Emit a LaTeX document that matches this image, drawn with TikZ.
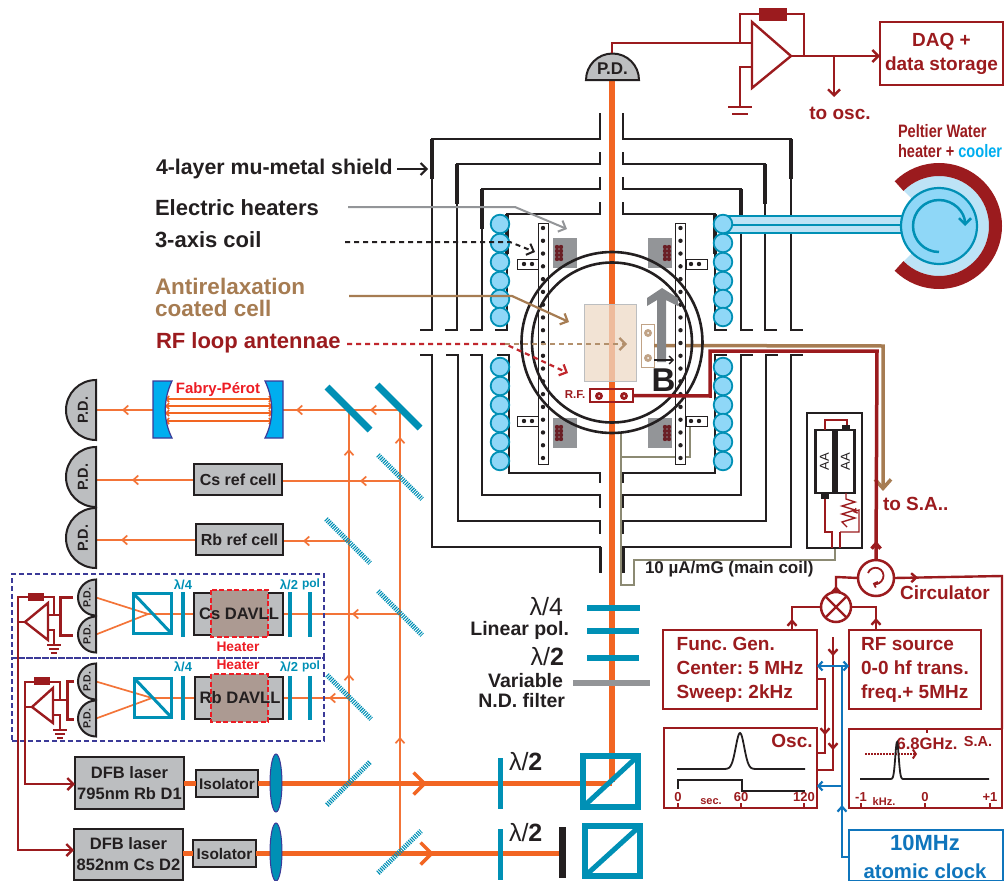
\documentclass[tikz,border=0pt]{standalone}
\usepackage{fontspec}
\setmainfont{Liberation Sans}
\usetikzlibrary{arrows.meta,decorations.markings,calc}
\definecolor{teal}{HTML}{0090B5}
\definecolor{orangebeam}{HTML}{F26522}
\definecolor{darkred}{HTML}{9B1B1E}
\definecolor{rfred}{HTML}{C1272D}
\definecolor{hotred}{HTML}{ED1C24}
\definecolor{ink}{HTML}{231F20}
\definecolor{tan}{HTML}{A67C52}
\definecolor{clockblue}{HTML}{0F75BC}
\definecolor{skyblue}{HTML}{00AEEF}
\definecolor{waterblue}{HTML}{8FD7F7}
\definecolor{palewater}{HTML}{BDE3F6}
\definecolor{navy}{HTML}{3B3A98}
\definecolor{boxgray}{HTML}{BCBEC0}
\definecolor{midgray}{HTML}{939598}
\definecolor{coatfill}{HTML}{EDD9C6}
\definecolor{heatfill}{HTML}{AC9A92}
\definecolor{thinwire}{HTML}{8C8A73}
\definecolor{coilred}{HTML}{6A1F25}
\newcommand{\fsz}[1]{\fontsize{#1}{#1}\selectfont}

\begin{document}
\frenchspacing
\begin{tikzpicture}[x=1pt,y=-1pt,
    lbl/.style={inner sep=0pt,outer sep=0pt,font=\bfseries,text=ink},
    graybox/.style={draw=ink,line width=2pt,fill=boxgray,inner sep=0pt,outer sep=0pt,text=ink,font=\bfseries\fsz{16}},
    redbox/.style={draw=darkred,line width=2.4pt,inner sep=0pt,outer sep=0pt,text=darkred,font=\bfseries},
    beam/.style={draw=orangebeam!90!white,line width=1.7pt},
    mainbeam/.style={draw=orangebeam,line width=6pt},
    laserbeam/.style={draw=orangebeam,line width=5pt},
    midarr/.style={postaction={decorate,decoration={markings,mark=at position #1 with {\arrow{Straight Barb[length=5pt,width=9pt]}}}}},
    bigarr/.style={postaction={decorate,decoration={markings,mark=at position #1 with {\arrow{Straight Barb[length=11pt,width=22pt,line width=3.5pt]}}}}},
    tipped/.style={-{Straight Barb[length=6pt,width=12pt]}},
    mirror/.style={draw=teal,line width=7pt},
    hatched/.style={draw=teal,line width=5pt,dash pattern=on 1.1pt off 1.1pt},
    wave/.style={draw=teal,line width=4pt},
    tealbox/.style={draw=teal,inner sep=0pt,outer sep=0pt},
    wire/.style={draw=darkred,line width=2.4pt},
    shieldline/.style={draw=ink,line width=1.8pt},
    pdbody/.style={draw=ink,line width=2pt,fill=boxgray},
    ball/.style={draw=teal,line width=1.8pt,fill=waterblue},
    rail/.style={draw=ink,line width=1pt,fill=white},
    dashbox/.style={draw=navy,line width=1.4pt,dash pattern=on 5pt off 3pt},
    heatbox/.style={draw=hotred,line width=2.5pt,dash pattern=on 5pt off 2.5pt,fill=heatfill},
    clk/.style={draw=clockblue,line width=2.2pt}
]
\useasboundingbox (0,0) rectangle (1005,881);

% Shield, upper half
\foreach \xl/\xr/\yb/\st in {507/715/214/202, 482/741/189/177, 457/765/164/152, 432/791/139/113} {
    \draw[shieldline] ({\xl-12},330) -- (\xl,330) -- (\xl,\yb) -- (600,\yb) -- (600,\st);
    \draw[shieldline] (623,\st) -- (623,\yb) -- (\xr,\yb) -- (\xr,330) -- ({\xr+12},330);
    \draw[draw=ink,line width=3.2pt] (\xl,\yb) -- (\xl,{\yb+40});
    \draw[draw=ink,line width=3.2pt] (\xr,\yb) -- (\xr,{\yb+40});
}
% Shield, lower half
\foreach \xl/\xr/\yb/\st in {509/715/473/483, 482/741/495/508, 458/766/521/534, 432/791/547/573} {
    \draw[shieldline] ({\xl-12},355) -- (\xl,355) -- (\xl,\yb) -- (600,\yb) -- (600,\st);
    \draw[shieldline] (623,\st) -- (623,\yb) -- (\xr,\yb) -- (\xr,355) -- ({\xr+12},355);
}
\draw[draw=ink,line width=3pt] (600,547) -- (600,573);
\draw[draw=ink,line width=3pt] (623,547) -- (623,573);

% Thin coil wire
\draw[draw=thinwire,line width=1.2pt] (621,433) -- (621,585) -- (634,585) -- (634,560) -- (835,560) -- (835,548);
\draw[draw=thinwire,line width=1.2pt] (621,457) -- (690,457) -- (690,427);

% Beams on the table
\coordinate (mirA) at (349,410);
\coordinate (mirB) at (400,410);
\coordinate (splitA) at (400,481);
\coordinate (splitB) at (349,541);
\coordinate (splitC) at (400,614);
\coordinate (splitD) at (349,698);
\coordinate (splitE) at (349,782);
\coordinate (splitF) at (400,852);
\coordinate (davCs) at (148,614);
\coordinate (davRb) at (152,698);
\coordinate (pd1) at (96,410);
\coordinate (pd2) at (96,480);
\coordinate (pd3) at (96,540);
\coordinate (pd4) at (96,597.5);
\coordinate (pd5) at (96,634.5);
\coordinate (pd6) at (96,681.5);
\coordinate (pd7) at (96,718.5);
\draw[beam,midarr=30pt] (mirB) -- (mirA);
\draw[beam,midarr=53pt] (mirA) -- (283,410);
\draw[beam,midarr=31pt] (153,410) -- (pd1);
\draw[beam,midarr=108pt,midarr=333pt] (splitE) -- (mirA);
\draw[beam,midarr=115pt,midarr=415pt] (splitF) -- (mirB);
\draw[beam,midarr=40pt] (splitA) -- (282,481);
\draw[beam,midarr=62pt] (194,480) -- (pd2);
\draw[beam,midarr=46pt] (splitB) -- (283,541);
\draw[beam,midarr=75pt] (196,540) -- (pd3);
\draw[beam,midarr=48pt] (splitC) -- (davCs);
\draw[beam,midarr=20pt] (splitD) -- (davRb);
\draw[beam] (davCs) -- (pd4);
\draw[beam] (davCs) -- (pd5);
\draw[beam] (davRb) -- (pd6);
\draw[beam] (davRb) -- (pd7);

% Photodiodes
\foreach \n/\y/\r/\s/\tx in {1/410/30/14.5/83, 2/477/30/14.5/83, 3/538/30/14.5/83, 4/597.5/18/10.5/87, 5/634.5/18/10.5/87, 6/681.5/18/10.5/87, 7/718.5/18/10.5/87} {
    \draw[pdbody] (96,{\y-\r}) arc (270:90:\r) -- cycle;
    \node[lbl,rotate=90,font=\bfseries\fsz{\s}] (pdlbl\n) at (\tx,\y) {P.D.};
}

% Fabry-Perot
\foreach \y in {399,406,413,421} {
    \draw[draw=orangebeam,line width=1.6pt,{Straight Barb[length=3pt,width=6pt]}-{Straight Barb[length=3pt,width=6pt]}] (165,\y) -- (273,\y);
}
\draw[draw=navy,line width=1.2pt,fill=skyblue] (153,381) -- (172,381) .. controls (163,400) and (163,420) .. (172,438) -- (153,438) -- cycle;
\draw[draw=navy,line width=1.2pt,fill=skyblue] (283,381) -- (265,381) .. controls (274,400) and (274,420) .. (265,438) -- (283,438) -- cycle;
\node[lbl,text=hotred,font=\bfseries\fsz{15}] (fplabel) at (218,390) {Fabry-Pérot};

% Reference cells
\node[graybox,minimum width=88pt,minimum height=31pt] (csref) at (238,479.5) {Cs ref cell};
\node[graybox,minimum width=87pt,minimum height=31pt] (rbref) at (239.5,539.5) {Rb ref cell};

% DAVLL
\node[dashbox,draw,minimum width=312pt,minimum height=84pt,inner sep=0pt] (boxCs) at (168,616) {};
\node[dashbox,draw,minimum width=312pt,minimum height=83pt,inner sep=0pt] (boxRb) at (168,699.5) {};
\draw[draw=ink,line width=2pt,fill=boxgray] (194,593) rectangle (283,635);
\draw[draw=ink,line width=2pt,fill=boxgray] (195,677) rectangle (283,719);
\draw[heatbox] (211,590) rectangle (268,637);
\draw[heatbox] (211,674) rectangle (268,722);
\node[lbl,font=\bfseries\fsz{16.6}] (davllCs) at (239,614) {Cs DAVLL};
\node[lbl,font=\bfseries\fsz{16.6}] (davllRb) at (240,698) {Rb DAVLL};
\node[lbl,text=hotred,font=\bfseries\fsz{13.8}] (heatCs) at (238,647) {Heater};
\node[lbl,text=hotred,font=\bfseries\fsz{13.8}] (heatRb) at (238,665) {Heater};
\foreach \yt/\yb/\yl in {592/637/585, 676/720/667} {
    \draw[wave] (183,\yt) -- (183,\yb);
    \draw[wave] (290,\yt) -- (290,\yb);
    \draw[wave] (310,\yt) -- (310,\yb);
    \node[lbl,text=teal,font=\bfseries\fsz{13}] at (183,\yl) {λ/4};
    \node[lbl,text=teal,font=\bfseries\fsz{13}] at (289,\yl) {λ/2};
    \node[lbl,text=teal,font=\bfseries\fsz{12}] at (311,{\yl-1}) {pol};
}
\node[tealbox,draw,line width=3pt,minimum width=38pt,minimum height=40pt] (pbsCs) at (152.5,613.5) {};
\node[tealbox,draw,line width=3pt,minimum width=37pt,minimum height=39pt] (pbsRb) at (153,698) {};
\draw[draw=teal,line width=3pt] (pbsCs.north west) -- (pbsCs.south east);
\draw[draw=teal,line width=3pt] (pbsRb.north west) -- (pbsRb.south east);

% Lock-in amplifiers on the left
\draw[wire] (48,603) -- (25,622) -- (48,640) -- cycle;
\draw[wire] (53,688) -- (32,707) -- (53,723) -- cycle;
\draw[wire] (25,622) -- (18,622) -- (18,597) -- (54,597) -- (54,615);
\draw[wire] (32,707) -- (25,707) -- (25,682) -- (60,682) -- (60,700);
\fill[darkred] (28,593) rectangle (44,601);
\fill[darkred] (34,677) rectangle (50,685);
\draw[wire] (48,615) -- (60,615);
\draw[wire] (53,700) -- (67,700);
\draw[wire,line width=3pt] (73,597) -- (60,597) -- (60,635) -- (73,635);
\draw[wire,line width=3pt] (74,681) -- (67,681) -- (67,719) -- (74,719);
\draw[wire] (48,630) -- (54,630) -- (54,645);
\draw[wire] (53,715) -- (60,715) -- (60,730);
\foreach \xc/\yc in {54/645, 60/730} {
    \draw[wire] ({\xc-7},\yc) -- ({\xc+7},\yc);
    \draw[wire] ({\xc-5},{\yc+4}) -- ({\xc+5},{\yc+4});
    \draw[wire] ({\xc-3},{\yc+8}) -- ({\xc+3},{\yc+8});
}

% Lasers and isolators
\node[graybox,minimum width=109pt,minimum height=52pt,align=center,font=\bfseries\fontsize{16.5}{21}\selectfont] (laserRb) at (129.5,783) {DFB laser\\795nm Rb D1};
\node[graybox,minimum width=109pt,minimum height=51pt,align=center,font=\bfseries\fontsize{16.5}{21}\selectfont] (laserCs) at (128.5,854.5) {DFB laser\\852nm Cs D2};
\node[graybox,minimum width=62pt,minimum height=27pt,font=\bfseries\fsz{15.4}] (isoRb) at (227,783.5) {Isolator};
\node[graybox,minimum width=63pt,minimum height=27pt,font=\bfseries\fsz{15.4}] (isoCs) at (224.5,853.5) {Isolator};
\draw[wire,tipped] (25,707) -- (25,784) -- (laserRb.west |- 0,784);
\draw[wire,tipped] (18,622) -- (18,850) -- (laserCs.west |- 0,850);

\coordinate (bsMain) at (612,782);
\coordinate (stopCs) at (562,852);
\coordinate (pdTop) at (612,80);
\draw[laserbeam] (laserRb.east |- isoRb) -- (isoRb.west);
\draw[laserbeam] (laserCs.east |- isoCs) -- (isoCs.west);
\draw[laserbeam,bigarr=169pt] (isoRb.east) -- (bsMain |- isoRb.east);
\draw[laserbeam,bigarr=178pt] (isoCs.east) -- (stopCs |- isoCs.east);
\draw[draw=navy,line width=1pt,fill=teal] (276,783) ellipse (6 and 29);
\draw[draw=navy,line width=1pt,fill=teal] (276,852) ellipse (6 and 29);

% Mirrors
\draw[mirror] (327,387) -- (370,430);
\draw[mirror] (377,385) -- (420,428);
\draw[hatched] (378,455) -- (422,499);
\draw[hatched] (326,519) -- (370,563);
\draw[hatched] (378,591) -- (422,635);
\draw[hatched] (327,675) -- (371,719);
\draw[hatched] (327,805) -- (370,762);
\draw[hatched] (378,873) -- (421,831);

% Main beam and its optics
\draw[mainbeam] (bsMain) -- (pdTop);
\draw[draw=teal,line width=6pt] (587,608) -- (640,608);
\draw[draw=teal,line width=6pt] (587,631) -- (639,631);
\draw[draw=teal,line width=6pt] (587,658) -- (639,658);
\draw[draw=midgray,line width=6pt] (573,683) -- (650,683);
\node[lbl,anchor=east,font=\fsz{25}] (qwlabel) at (563,607) {λ/4};
\node[lbl,anchor=east,font=\bfseries\fsz{19.5}] (linpol) at (569,630) {Linear pol.};
\node[lbl,anchor=east,font=\fsz{25}] (hwlabel) at (564,657) {λ/\textbf{2}};
\node[lbl,anchor=east,font=\bfseries\fsz{19.5}] (varnd) at (563,681) {Variable};
\node[lbl,anchor=east,font=\bfseries\fsz{19.5}] (ndfilt) at (565,701) {N.D. filter};
\draw[wave,line width=5pt] (500,758) -- (500,809);
\draw[wave,line width=5pt] (500,829) -- (500,880);
\draw[draw=ink,line width=7pt] (562,827) -- (562,878);
\node[lbl,anchor=west,font=\fsz{25}] (hwlabelA) at (509,762) {λ/\textbf{2}};
\node[lbl,anchor=west,font=\fsz{25}] (hwlabelB) at (509,833) {λ/\textbf{2}};
\node[tealbox,draw,line width=6pt,minimum width=55pt,minimum height=51pt] (pbsMain) at (610.5,781.5) {};
\node[tealbox,draw,line width=6pt,minimum width=55pt,minimum height=50pt] (pbsCut) at (612.5,851) {};
\draw[draw=teal,line width=5pt] (pbsMain.south west) -- (pbsMain.north east);
\draw[draw=teal,line width=5pt] (pbsCut.south west) -- (pbsCut.north east);

% Top photodiode and amplifier
\draw[pdbody] (586,80) arc (180:360:26.5) -- cycle;
\node[lbl,font=\bfseries\fsz{17}] (pdTopLabel) at (612.5,69) {P.D.};
\coordinate (ampIn) at (752,43);
\coordinate (ampGnd) at (752,67);
\coordinate (ampOut) at (791,56);
\draw[wire] (752,22) -- (752,88) -- (ampOut) -- cycle;
\draw[wire] (612,53) -- (612,43) -- (ampIn);
\draw[wire] (740,43) -- (740,14) -- (804,14) -- (804,56);
\fill[darkred] (759,8) rectangle (787,21);
\draw[wire] (ampGnd) -- (740,67) -- (740,107);
\draw[wire] (728,107) -- (752,107);
\draw[wire] (732,114) -- (748,114);
\node[redbox,minimum width=123pt,minimum height=63pt,align=center,font=\bfseries\fontsize{19}{24}\selectfont] (daq) at (941.5,53.5) {DAQ +\\data storage};
\draw[wire,tipped] (ampOut) -- (daq.west |- ampOut);
\coordinate (oscDrop) at (834,97);
\draw[wire,tipped] (834,56) -- (oscDrop);
\node[lbl,text=darkred,font=\bfseries\fsz{19}] (toosc) at (840,113) {to osc.};

% Peltier water loop
\node[lbl,anchor=west,text=darkred,font=\bfseries\fsz{18}] (peltA) at (898,131) {\scalebox{0.81}[1]{Peltier Water}};
\node[lbl,anchor=west,font=\bfseries\fsz{18}] (peltB) at (898,151) {\scalebox{0.81}[1]{\textcolor{darkred}{heater + }\textcolor{skyblue}{cooler}}};
\fill[palewater] (723,216) rectangle (905,233);
\draw[draw=teal,line width=2pt] (723,216) -- (905,216);
\draw[draw=teal,line width=2pt] (723,224.5) -- (905,224.5);
\draw[draw=teal,line width=2pt] (723,233) -- (905,233);
\coordinate (peltier) at (939,226);
\fill[palewater] (peltier) ++(225:50) arc (225:495:50) -- (peltier) -- cycle;
\draw[draw=darkred,line width=13pt] (peltier) ++(225:56.5) arc (225:495:56.5);
\draw[ball,line width=2.2pt] (peltier) circle (38);
\draw[draw=teal,line width=2.5pt,-{Straight Barb[length=6pt,width=12pt]}] (peltier) ++(90:26) arc (90:360:26);

% Coil tubes
\foreach \xc in {500,723} {
    \foreach \yc in {224,243,262,281,299,317,367,386,405,423,442,461} {
        \draw[ball] (\xc,\yc) circle (9.3);
    }
}

% Tan wire sits under the rails
\node[draw=tan!70!white,line width=1pt,fill=white,inner sep=0pt,outer sep=0pt,minimum width=13pt,minimum height=43pt] (cellpad) at (647.5,345.5) {};
\draw[draw=tan,line width=3.5pt,-{Straight Barb[length=9pt,width=16pt]}] (cellpad.east) -- (883,346) -- (883,491);

% Rails and heaters
\foreach \xr in {543,680.5} {
    \draw[rail] ({\xr-5},223) rectangle ({\xr+5},464);
    \foreach \i in {0,...,18} {
        \fill[ink] (\xr,{228+\i*12.78}) circle (2.2);
    }
}
\foreach \xa/\ya/\da/\db in {517/259/524/532, 686/259/691/699, 517/416/524/532, 686/416/691/699} {
    \draw[rail] (\xa,\ya) rectangle ({\xa+21},{\ya+10.5});
    \fill[ink] (\da,{\ya+5}) circle (2.2);
    \fill[ink] (\db,{\ya+5}) circle (2.2);
}
\foreach \xa/\ya/\ca in {553/238/557, 648/238/665, 553/418/557, 648/418/665} {
    \fill[midgray] (\xa,\ya) rectangle ({\xa+24},{\ya+30});
    \foreach \i in {0,1,2,3} {
        \fill[coilred] (\ca,{\ya+9+\i*4}) circle (2.2);
        \fill[coilred] ({\ca+4},{\ya+9+\i*4}) circle (2.2);
    }
}

% Cell
\fill[coatfill,fill opacity=0.75] (584,304) rectangle (636,381);
\draw[draw=boxgray,line width=0.8pt] (584,304) rectangle (636,381);
\draw[draw=ink,line width=2.6pt] (612,342.5) circle (90.5);
\draw[draw=ink,line width=2.6pt] (612,342.5) circle (80);

% RF antenna
\node[draw=darkred,line width=1.2pt,inner sep=0pt,outer sep=0pt,minimum width=43pt,minimum height=13pt] (rfant) at (611.5,395.5) {};
\foreach \xc in {599,624} {
    \fill[darkred] (\xc,396) circle (4);
    \fill[white] (\xc,396) circle (1);
}
\node[lbl,text=darkred,font=\bfseries\fsz{11.5}] (rflabel) at (575,395) {R.F.};
\node[lbl,anchor=west,text=darkred,font=\bfseries\fsz{19}] (tosa) at (883,504) {to S.A..};
\node[lbl,anchor=west,font=\bfseries\fsz{17}] (coilcal) at (645,569) {10 µA/mG (main coil)};

% Magnetic field arrow
\fill[draw=none,fill=midgray!90!black] (657,362) -- (657,300) -- (647,306) -- (647,298) -- (662,288) -- (678,298) -- (678,306) -- (666,300) -- (666,362) -- cycle;
\foreach \yc in {333,358} {
    \fill[tan!70!white] (648,\yc) circle (4);
    \fill[white] (648,\yc) circle (1);
}
\node[lbl,font=\bfseries\fsz{33}] (bfield) at (663.5,380) {B};
\coordinate (fieldTip) at (674,360);
\draw[draw=ink,line width=1.4pt,-{Straight Barb[length=4pt,width=8pt]}] (654,360) -- (fieldTip);

% Side labels
\node[lbl,anchor=west,font=\bfseries\fsz{21.3}] (lblshield) at (156,169) {4-layer mu-metal shield};
\node[lbl,anchor=west,font=\bfseries\fsz{22}] (lblheat) at (155,208) {Electric heaters};
\node[lbl,anchor=west,font=\bfseries\fsz{22}] (lblcoil) at (155,240) {3-axis coil};
\node[lbl,anchor=west,text=tan,font=\bfseries\fsz{22.5}] (lblcell) at (155,286) {Antirelaxation};
\node[lbl,anchor=west,text=tan,font=\bfseries\fsz{22.5}] (lblcellb) at (155,308) {coated cell};
\node[lbl,anchor=west,text=darkred,font=\bfseries\fsz{22}] (lblrf) at (156,343) {RF loop antennae};
\coordinate (shieldEnd) at (428,169);
\coordinate (heatStart) at (348,207);
\coordinate (coilStart) at (345,242);
\coordinate (cellStart) at (349,296);
\coordinate (rfStart) at (347,344);
\draw[draw=ink,line width=2pt,tipped] (397,169) -- (shieldEnd);
\draw[draw=midgray,line width=2pt,tipped] (heatStart) -- (515,207) -- (567,229);
\draw[draw=ink,line width=2pt,dash pattern=on 5pt off 4pt,tipped] (coilStart) -- (510,242) -- (535,252);
\draw[draw=tan,line width=2.2pt,tipped] (cellStart) -- (512,296) -- (569,322);
\draw[draw=rfred,line width=2.2pt,dash pattern=on 5pt off 4pt,tipped] (rfStart) -- (505,344) -- (568,373);
\draw[draw=tan!85!white,line width=2.2pt,dash pattern=on 5pt off 4pt,tipped] (505,344) -- (627,344);

% Red wire out of the cell
\node[draw=ink,line width=1.8pt,inner sep=0pt,outer sep=0pt,minimum width=55pt,minimum height=135pt] (battery) at (834.5,480.5) {};
\node[draw=ink,line width=2.5pt,inner sep=0pt,outer sep=0pt,minimum width=18pt,minimum height=63pt] (cellA) at (824.5,461.5) {};
\node[draw=ink,line width=2.5pt,inner sep=0pt,outer sep=0pt,minimum width=18pt,minimum height=63pt] (cellB) at (845.5,461.5) {};
\node[lbl,rotate=90,font=\fsz{13}] (aaA) at (824.5,461.5) {AA};
\node[lbl,rotate=90,font=\fsz{13}] (aaB) at (845.5,461.5) {AA};
\fill[ink] (821,494) rectangle (829,499);
\fill[ink] (842,425) rectangle (850,430);
\draw[draw=darkred,line width=1.4pt] (825,430) -- (825,420) -- (847,420) -- (847,425);
\draw[draw=darkred,line width=1.4pt] (825,499) -- (825,532) -- (832,532) -- (832,548);
\draw[draw=darkred,line width=1.4pt] (846,493) -- (846,499) -- (855,502) -- (842,506) -- (855,510) -- (842,514) -- (855,518) -- (842,522) -- (847,527);
\draw[draw=darkred,line width=1.4pt] (840,548) -- (840,532);
\draw[draw=darkred,line width=1.4pt,-{Straight Barb[length=3pt,width=5pt]}] (840,532) -- (859,532) -- (859,510) -- (853,512);

\node[draw=darkred,line width=2.5pt,fill=white,circle,minimum size=36pt,inner sep=0pt,outer sep=0pt] (circ) at (876,578) {};
\draw[draw=darkred,line width=1.8pt,-{Straight Barb[length=3pt,width=6pt]}] (868,573) arc (200:470:8);
\node[lbl,text=darkred,font=\bfseries\fsz{19}] (circlabel) at (945,593) {Circulator};
\draw[draw=darkred,line width=3.5pt,midarr=19pt] (circ.north) -- (877,351) -- (710,351) -- (710,396) -- (rfant.east);

% Mixer and sources
\node[draw=darkred,line width=2.5pt,circle,minimum size=30pt,inner sep=0pt,outer sep=0pt] (mixer) at (836,607) {};
\draw[draw=darkred,line width=2.2pt] (mixer.north west) -- (mixer.south east);
\draw[draw=darkred,line width=2.2pt] (mixer.north east) -- (mixer.south west);
\node[redbox,minimum width=154pt,minimum height=79pt,align=left,font=\bfseries\fontsize{19}{24}\selectfont] (funcgen) at (740,669.5) {Func. Gen.\\Center: 5 MHz\\Sweep: 2kHz};
\node[redbox,minimum width=132pt,minimum height=79pt,align=left,font=\bfseries\fontsize{19}{24}\selectfont] (rfsource) at (915,669.5) {RF source\\0-0 hf trans.\\freq.+ 5MHz};
\node[redbox,minimum width=153pt,minimum height=80pt] (osc) at (740.5,768) {};
\node[redbox,minimum width=153pt,minimum height=79pt] (sa) at (925.5,768.5) {};
\node[draw=clockblue,line width=2.2pt,inner sep=0pt,outer sep=0pt,minimum width=154pt,minimum height=51pt] (clock) at (926,855.5) {};
\node[lbl,text=clockblue,font=\bfseries\fsz{22}] (clockA) at (925,843) {10MHz};
\node[lbl,text=clockblue,font=\bfseries\fsz{20.3}] (clockB) at (925,871) {atomic clock};
\draw[wire,midarr=11pt] (funcgen.north -| 792,0) -- (792,607) -- (mixer.west);
\draw[wire,midarr=12pt] (rfsource.north -| 876,0) -- (876,607) -- (mixer.east);
\draw[wire,midarr=6pt] (mixer.north) -- (836,577) -- (circ.west);
\draw[wire,midarr=24pt] (circ.east) -- (1002,576) -- (1002,729);
\coordinate (oscFeedTop) at (833,637);
\draw[wire,midarr=19pt,midarr=113pt] (oscFeedTop) -- (833,770) -- (osc.east |- 0,770);
\draw[wire,midarr=64pt] (funcgen.east |- 0,679) -- (825,679) -- (825,753) -- (osc.east |- 0,753);

% Clock distribution
\coordinate (clkTop) at (842,666);
\coordinate (clkMid) at (842,786);
\draw[clk,midarr=59pt] (clock.west |- 0,857) -- (842,857) -- (clkTop);
\draw[clk,{Straight Barb[length=4pt,width=9pt]}-{Straight Barb[length=4pt,width=9pt]}] (funcgen.east |- clkTop) -- (rfsource.west |- clkTop);
\draw[clk,-{Straight Barb[length=4pt,width=9pt]}] (clkMid) -- (osc.east |- clkMid);

% Oscilloscope traces
\node[lbl,text=darkred,font=\bfseries\fsz{19}] (osclabel) at (792,741) {Osc.};
\draw[draw=ink,line width=1.8pt] plot[domain=677:805,samples=200] (\x,{769-36*exp(-((\x-740)/6)^2)});
\draw[draw=ink,line width=1.8pt] (678,789) -- (678,780) -- (742,780) -- (742,791) -- (805,791);
\foreach \xt/\tl in {678/0, 741/60, 804/120} {
    \draw[wire] (\xt,803) -- (\xt,808);
    \node[lbl,text=darkred,font=\bfseries\fsz{13}] at (\xt,797) {\tl};
}
\node[lbl,text=darkred,font=\bfseries\fsz{11}] (seclabel) at (711,802) {sec.};

% Spectrum analyser
\node[lbl,text=darkred,font=\bfseries\fsz{16.6}] (salabelA) at (927,744) {6.8GHz.};
\node[lbl,text=darkred,font=\bfseries\fsz{14.5}] (salabelB) at (978,742) {S.A.};
\draw[draw=darkred,line width=2pt,densely dotted,-{Straight Barb[length=3pt,width=9pt]}] (865,754) -- (917,754);
\draw[draw=ink,line width=1.8pt] plot[domain=860:989,samples=300] (\x,{779-37*exp(-((\x-897)/2.4)^2)});
\draw[wire] (927,729) -- (927,733);
\foreach \xt/\tl in {861/-1, 925/0, 990/+1} {
    \draw[wire] (\xt,803) -- (\xt,808);
    \node[lbl,text=darkred,font=\bfseries\fsz{13}] at (\xt,797) {\tl};
}
\node[lbl,text=darkred,font=\bfseries\fsz{11}] (khzlabel) at (884,802) {kHz.};

\end{tikzpicture}
\end{document}
